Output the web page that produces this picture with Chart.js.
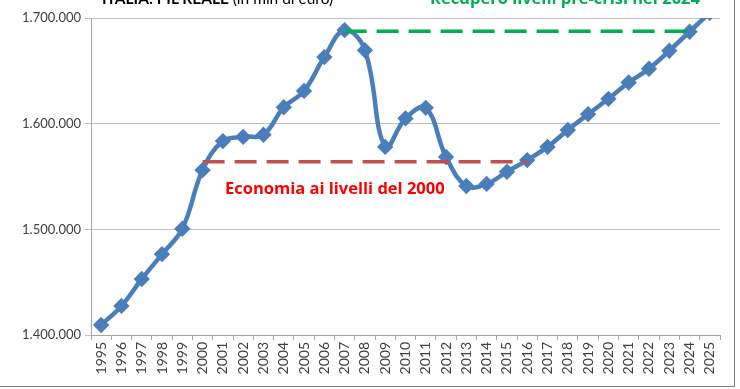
<!DOCTYPE html>
<html lang="it">
<head>
    <meta charset="UTF-8">
    <title>Italia: PIL reale</title>
    <script src="https://cdn.jsdelivr.net/npm/chart.js@4.4.1/dist/chart.umd.min.js"></script>
    <style>
        * {
            margin: 0;
            padding: 0;
            box-sizing: border-box;
        }

        body {
            background: white;
            font-family: 'Lato', sans-serif;
        }

        .frame {
            position: relative;
            width: 740px;
            height: 389px;
            overflow: hidden;
        }

        .frame-line {
            position: absolute;
            left: -2px;
            top: -2px;
            width: 737px;
            height: 389px;
            border-right: 1px solid #7f7f7f;
            border-bottom: 1px solid #7f7f7f;
        }

        .note {
            position: absolute;
            white-space: nowrap;
            line-height: 20px;
            font-weight: bold;
        }

        #title {
            left: 102px;
            top: -12px;
            font-size: 15.5px;
            color: #000;
        }

        #title span {
            font-weight: normal;
        }

        #recupero {
            left: 430px;
            top: -12px;
            font-family: 'Open Sans', sans-serif;
            font-size: 16.5px;
            color: #00b050;
        }

        #economia {
            left: 225px;
            top: 178px;
            font-family: 'Open Sans', sans-serif;
            font-size: 16.5px;
            color: #ff0000;
        }
    </style>
</head>
<body>
    <div class="frame">
        <canvas id="pilChart" width="740" height="389"></canvas>
        <div class="frame-line"></div>
        <div class="note" id="title">ITALIA: PIL REALE <span>(in mln di euro)</span></div>
        <div class="note" id="recupero">Recupero livelli pre-crisi nel 2024</div>
        <div class="note" id="economia">Economia ai livelli del 2000</div>
    </div>

    <script>
        // anni 1995-2025
        const years = ['1995', '1996', '1997', '1998', '1999', '2000', '2001', '2002', '2003', '2004',
            '2005', '2006', '2007', '2008', '2009', '2010', '2011', '2012', '2013', '2014',
            '2015', '2016', '2017', '2018', '2019', '2020', '2021', '2022', '2023', '2024', '2025'];

        // PIL reale, mln di euro
        const pil = [1409500, 1427500, 1453000, 1476500, 1500500, 1556000, 1583500, 1587500, 1589500, 1615500,
            1631000, 1663000, 1688500, 1669500, 1578000, 1605000, 1615000, 1568500, 1541000, 1543000,
            1554500, 1565500, 1578000, 1594000, 1609000, 1623500, 1639000, 1652000, 1669000, 1687000, 1705000];

        // livelli di riferimento (linee tratteggiate)
        const livello2000 = 1564000;
        const livelloPreCrisi = 1687500;
        const anni2000 = ['2000', '2016'];
        const anniPreCrisi = ['2007', '2024'];

        const yMin = 1400000;
        const yMax = 1700000;
        const yStep = 100000;

        function hLine(value, range) {
            const a = years.indexOf(range[0]);
            const b = years.indexOf(range[1]);
            return years.map((y, i) => (i >= a && i <= b) ? value : null);
        }

        function fmt(v) {
            return String(v).replace(/\B(?=(\d{3})+(?!\d))/g, '.');
        }

        new Chart(document.getElementById('pilChart'), {
            type: 'line',
            data: {
                labels: years,
                datasets: [{
                    label: 'Economia ai livelli del 2000',
                    data: hLine(livello2000, anni2000),
                    borderColor: '#c0504d',
                    borderWidth: 3.5,
                    borderDash: [22, 10],
                    pointRadius: 0,
                    tension: 0
                }, {
                    label: 'Recupero livelli pre-crisi nel 2024',
                    data: hLine(livelloPreCrisi, anniPreCrisi),
                    borderColor: '#00b050',
                    borderWidth: 3.5,
                    borderDash: [22, 10],
                    pointRadius: 0,
                    tension: 0
                }, {
                    label: 'PIL reale',
                    data: pil,
                    borderColor: '#4a7ebb',
                    backgroundColor: '#4a7ebb',
                    borderWidth: 4.5,
                    pointStyle: 'rectRot',
                    pointRadius: 5,
                    tension: 0.4,
                    clip: 0
                }]
            },
            options: {
                responsive: false,
                animation: false,
                layout: {
                    padding: { top: 18, right: 20, bottom: 0, left: 0 }
                },
                plugins: {
                    legend: { display: false },
                    tooltip: { enabled: false }
                },
                scales: {
                    x: {
                        offset: true,
                        afterFit: s => { s.height = 54; },
                        grid: {
                            offset: true,
                            drawOnChartArea: false,
                            drawTicks: true,
                            tickLength: 5,
                            color: '#a6a6a6'
                        },
                        border: { color: '#a6a6a6' },
                        ticks: {
                            minRotation: 90,
                            maxRotation: 90,
                            autoSkip: false,
                            padding: 2,
                            color: '#404040',
                            font: { family: 'Lato', size: 14 }
                        }
                    },
                    y: {
                        min: yMin,
                        max: yMax,
                        afterFit: s => { s.width = 91; },
                        grid: {
                            color: '#bfbfbf',
                            tickLength: 6
                        },
                        border: { color: '#a6a6a6' },
                        ticks: {
                            stepSize: yStep,
                            padding: 4,
                            color: '#404040',
                            font: { family: 'Lato', size: 13 },
                            callback: v => fmt(v)
                        }
                    }
                }
            }
        });
    </script>
</body>
</html>
